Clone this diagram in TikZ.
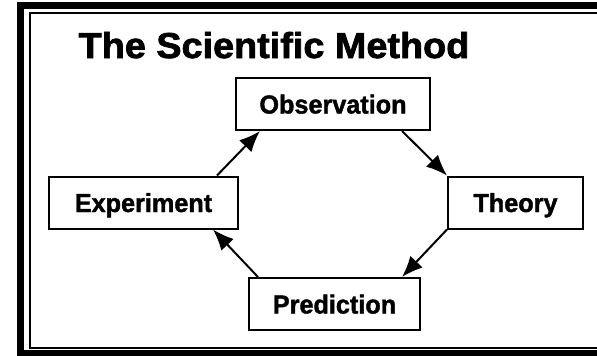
\documentclass[tikz,border=0pt]{standalone}
\usepackage{fontspec}
\setmainfont{Liberation Sans}
\newfontfamily\titlefont[FakeBold=2,FakeStretch=1.05]{Liberation Sans Bold}
\newfontfamily\stagefont[FakeBold=1.5,FakeStretch=0.97]{Liberation Sans Bold}
\usetikzlibrary{calc,arrows.meta}

\tikzset{
  stage/.style={draw=black, line width=2pt, text height=19pt, text depth=0pt,
    minimum height=52pt, inner sep=0pt,
    font=\stagefont\fontsize{26}{26}\selectfont},
  cyclearrow/.style={draw=black, line width=2pt, -{Latex[length=21pt,width=17pt]}}
}

\begin{document}
\begin{tikzpicture}[x=1pt,y=-1pt]

   \useasboundingbox (0,0) rectangle (597,356);

   % frame, cut off on the right
   \draw[draw=black, line width=6.5pt] (20.5,5.5) rectangle (640,353.5);
   \draw[draw=black, line width=1.8pt] (30,13) rectangle (640,348);

   \node[anchor=base] (title) at (274,58)
      {\titlefont\fontsize{36}{36}\selectfont The Scientific Method};

   \node[stage, minimum width=194pt] (obs) at (333,104) {Observation};
   \node[stage, minimum width=135pt] (thy) at (515.5,202.5) {Theory};
   \node[stage, minimum width=189pt] (exp) at (143.5,202.5) {Experiment};
   \node[stage, minimum width=171pt] (pre) at (334.5,304) {Prediction};

   \draw[cyclearrow] ($(obs.south east)+(-29,0)$) -- (thy.north west);
   \draw[cyclearrow] (thy.south west) -- ($(pre.north east)+(-19,0)$);
   \draw[cyclearrow] ($(pre.north west)+(10,0)$) -- ($(exp.south east)+(-26,0)$);
   \draw[cyclearrow] ($(exp.north east)+(-22,0)$) -- ($(obs.south west)+(25,0)$);

\end{tikzpicture}
\end{document}
